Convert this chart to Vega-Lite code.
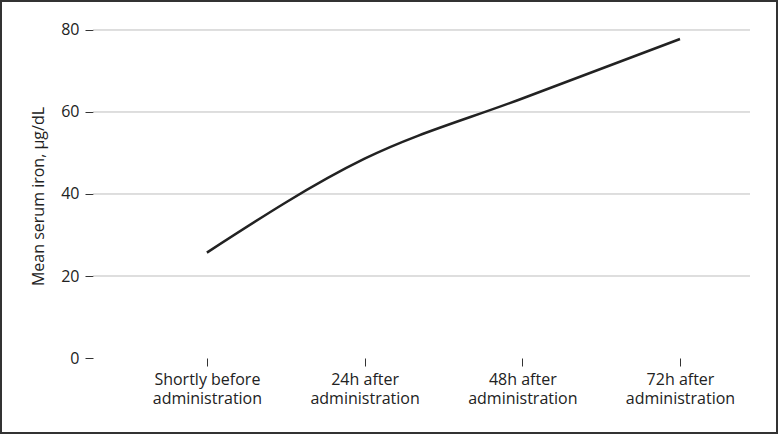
{
  "$schema": "https://vega.github.io/schema/vega-lite/v6.json",
  "width": 776,
  "height": 432,
  "padding": 1,
  "autosize": {"type": "none"},
  "background": "white",
  "config": {
    "view": {"stroke": "#333333", "strokeWidth": 2},
    "font": "Open Sans",
    "axisY": {
      "offset": -92,
      "domain": false,
      "grid": false,
      "titleFont": "Open Sans",
      "titleFontSize": 16,
      "titleFontWeight": "normal",
      "titleColor": "#222222",
      "titleX": -47,
      "titleY": 195,
      "tickSize": 8,
      "tickColor": "#333333",
      "tickWidth": 1,
      "labelFont": "Open Sans",
      "labelFontSize": 16,
      "labelColor": "#222222",
      "labelPadding": 6,
      "labelFlush": false,
      "labelOverlap": false
    },
    "axisX": {
      "offset": -75,
      "domain": false,
      "grid": false,
      "tickSize": 8,
      "tickColor": "#333333",
      "tickWidth": 1,
      "labelFont": "Open Sans",
      "labelFontSize": 16,
      "labelColor": "#222222",
      "labelPadding": 5,
      "labelLineHeight": 19,
      "labelFlush": false,
      "labelOverlap": false
    }
  },
  "datasets": {
    "series": [
      {"t": 0, "y": 25.7},
      {"t": 1, "y": 48.6},
      {"t": 2, "y": 63.3},
      {"t": 3, "y": 77.8}
    ],
    "grid": [
      {"y": 20},
      {"y": 40},
      {"y": 60},
      {"y": 80}
    ]
  },
  "encoding": {
    "y": {
      "field": "y",
      "type": "quantitative",
      "scale": {"domain": [-18.29, 87.07], "nice": false, "zero": false},
      "axis": {"values": [0, 20, 40, 60, 80], "title": "Mean serum iron, µg/dL"}
    }
  },
  "layer": [
    {
      "data": {"name": "grid"},
      "mark": {"type": "rule", "color": "#bdbdbd", "strokeWidth": 1},
      "encoding": {
        "x": {"datum": -0.723, "type": "quantitative", "scale": {"domain": [-1.3056, 3.6151], "nice": false, "zero": false}},
        "x2": {"datum": 3.444}
      }
    },
    {
      "data": {"values": [{}]},
      "mark": {"type": "rule", "color": "#333333", "strokeWidth": 1.5},
      "encoding": {
        "y": {"datum": 0, "type": "quantitative"},
        "x": {"datum": -0.723, "type": "quantitative"},
        "x2": {"datum": 3.444}
      }
    },
    {
      "data": {"values": [{}]},
      "mark": {"type": "rule", "color": "#333333", "strokeWidth": 1.5},
      "encoding": {
        "x": {"datum": -0.723, "type": "quantitative"},
        "y": {"datum": 0, "type": "quantitative"},
        "y2": {"datum": 80}
      }
    },
    {
      "data": {"name": "series"},
      "mark": {"type": "line", "interpolate": "monotone", "color": "#222222", "strokeWidth": 2.5},
      "encoding": {
        "x": {
          "field": "t",
          "type": "quantitative",
          "scale": {"domain": [-1.3056, 3.6151], "nice": false, "zero": false},
          "axis": {
            "values": [0, 1, 2, 3],
            "title": null,
            "labelExpr": "datum.value == 0 ? ['Shortly before', 'administration'] : datum.value == 1 ? ['24h after', 'administration'] : datum.value == 2 ? ['48h after', 'administration'] : ['72h after', 'administration']"
          }
        }
      }
    }
  ]
}
